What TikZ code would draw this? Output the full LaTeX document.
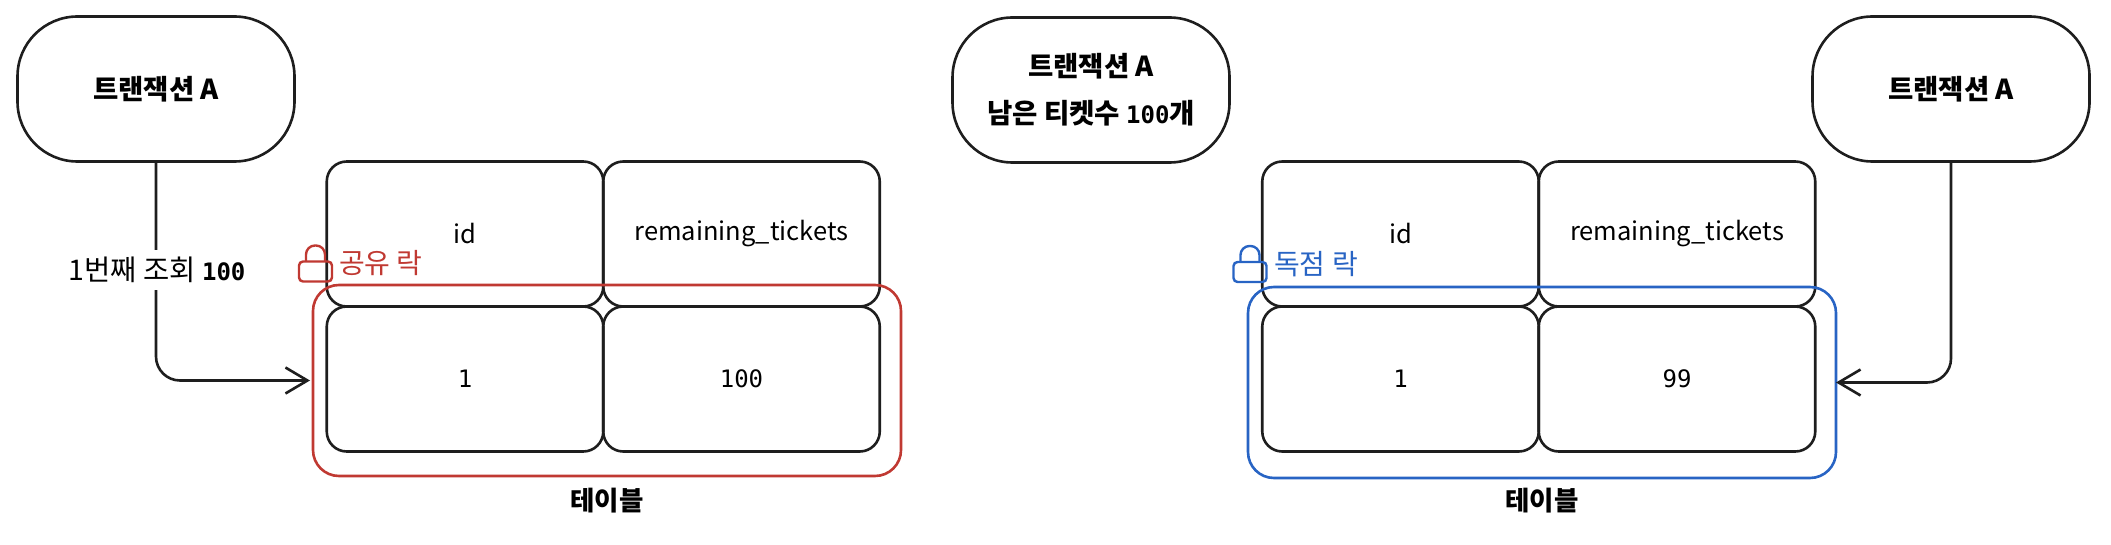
\documentclass[tikz,border=0pt]{standalone}
\usepackage{fontspec}
\setmainfont{Noto Sans CJK KR}
\newfontfamily\numfont{DejaVu Sans Mono}
\newcommand{\numtext}[1]{{\fontsize{24}{24}\selectfont\numfont #1}}
\usepackage{tikz}
\usetikzlibrary{arrows.meta,positioning}
\usepackage{xcolor}
\definecolor{InkBlack}{RGB}{30,30,30}
\definecolor{LockRed}{RGB}{192,57,50}
\definecolor{LockBlue}{RGB}{40,100,196}
\tikzset{
    txbox/.style={draw=InkBlack,line width=2.6pt,rounded corners=60pt,minimum width=277pt,minimum height=145pt,align=center,font=\fontsize{27.5}{47}\selectfont\bfseries,outer sep=0pt},
    cell/.style={draw=InkBlack,line width=2.6pt,rounded corners=20pt,minimum width=276.5pt,minimum height=145pt,font=\fontsize{25.5}{30}\selectfont,outer sep=0pt},
    lockbox/.style={draw=#1,line width=2.6pt,rounded corners=26pt,minimum width=588pt,minimum height=191pt,outer sep=0pt},
    lockbody/.style={draw=#1,line width=2.4pt,rounded corners=4pt,minimum width=33pt,minimum height=20pt,inner sep=0pt,outer sep=0pt},
    locktext/.style={text=#1,font=\fontsize{28}{30}\selectfont,inner sep=0pt},
    caption/.style={font=\fontsize{26.5}{30}\selectfont\bfseries,inner sep=0pt},
    link/.style={draw=InkBlack,line width=2.6pt,rounded corners=24pt,-{Straight Barb[length=22pt,width=26pt,line width=2.6pt]}},
}
\begin{document}
\begin{tikzpicture}[x=1pt,y=-1pt,node distance=0pt]
    \useasboundingbox (0,0) rectangle (2111,545);
    % left side
    \node[txbox] (txa) at (156,89) {트랜잭션 A};
    \node[cell] (ida) at (465,234) {id};
    \node[cell,right=of ida] (ticketsa) {remaining\_tickets};
    \node[cell,below=of ida] (onea) {\numtext{1}};
    \node[cell,right=of onea] (valuea) {\numtext{100}};
    \node[lockbox=LockRed] (locka) at (607,380.5) {};
    \node[lockbody=LockRed] (bodya) at (315.5,271.5) {};
    \draw[draw=LockRed,line width=2.4pt,rounded corners=9pt] ([xshift=-9.5pt]bodya.north) -- ++(0,-16) -- ++(19,0) -- ++(0,16);
    \node[locktext=LockRed,anchor=west] (texta) at (339,263) {공유 락};
    \node[caption,below=12pt of locka] (tablea) {테이블};
    \draw[link,shorten >=3pt] (txa) |- (locka.west);
    \node[fill=white,inner sep=0pt,minimum height=40pt,font=\fontsize{28.5}{30}\selectfont] (querya) at (157,270) {1번째 조회 {\bfseries\numtext{100}}};
    % right side
    \node[txbox] (txb) at (1091,90) {트랜잭션 A\\ 남은 티켓수 \numtext{100}개};
    \node[cell] (idb) at (1400.5,234) {id};
    \node[cell,right=of idb] (ticketsb) {remaining\_tickets};
    \node[cell,below=of idb] (oneb) {\numtext{1}};
    \node[cell,right=of oneb] (valueb) {\numtext{99}};
    \node[lockbox=LockBlue] (lockb) at (1542,382.5) {};
    \node[lockbody=LockBlue] (bodyb) at (1250,272) {};
    \draw[draw=LockBlue,line width=2.4pt,rounded corners=9pt] ([xshift=-9.5pt]bodyb.north) -- ++(0,-16) -- ++(19,0) -- ++(0,16);
    \node[locktext=LockBlue,anchor=west] (textb) at (1274,264) {독점 락};
    \node[caption,below=10pt of lockb] (tableb) {테이블};
    \node[txbox] (txc) at (1951,89) {트랜잭션 A};
    \draw[link] (txc) |- (lockb.east);
\end{tikzpicture}
\end{document}
